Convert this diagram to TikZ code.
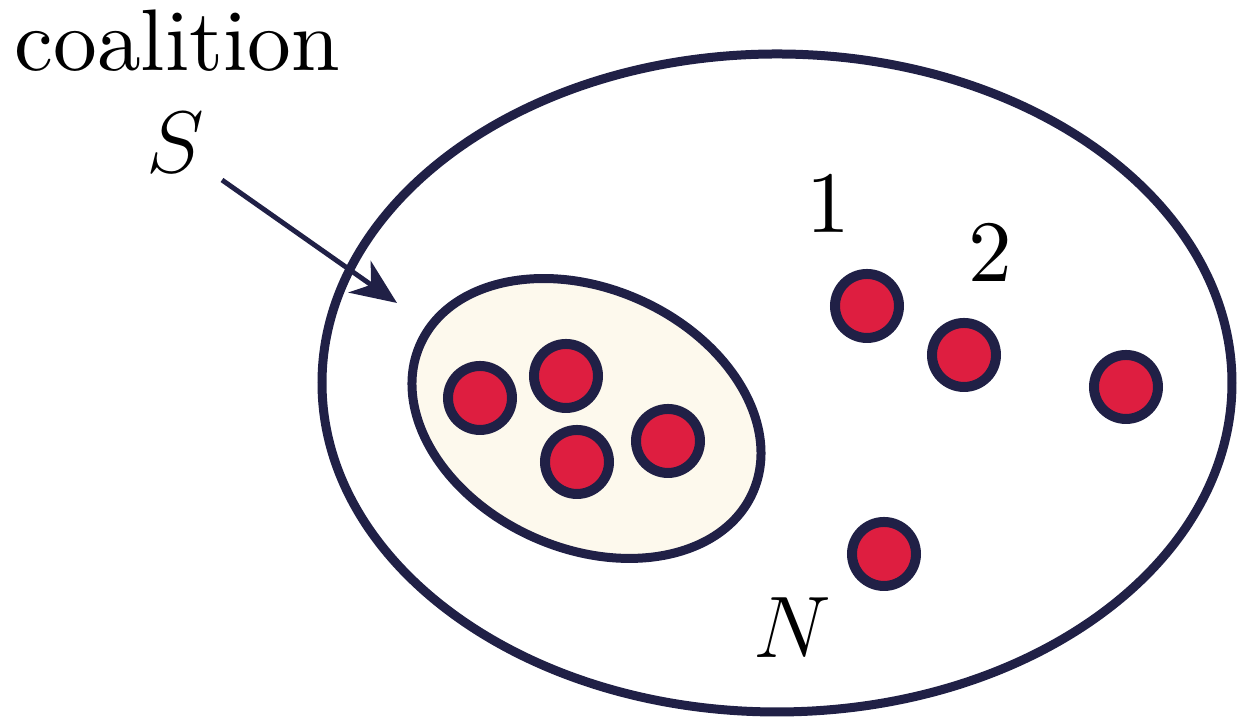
\documentclass[tikz,border=0pt]{standalone}
\usepackage{xcolor}
\usepackage{amsmath,amssymb}
\usepackage{fontspec}
\usepackage{tikz}
\usetikzlibrary{arrows.meta,positioning}
\newfontfamily\coalfont{lmroman10-regular}[Extension=.otf]
\definecolor{coalnavy}{RGB}{32,32,70}
\definecolor{coalred}{RGB}{222,30,64}
\definecolor{coalcream}{RGB}{253,249,237}
\tikzset{
  coal-grand/.style={draw=coalnavy, line width=0.09cm},
  coal-sub/.style={draw=coalnavy, fill=coalcream, line width=0.09cm},
  coal-player/.style={circle, draw=coalnavy, fill=coalred, line width=0.1cm,
    minimum size=0.64cm, inner sep=0pt},
  coal-label/.style={font=\coalfont\fontsize{24.88}{30}\selectfont, inner sep=0pt, anchor=base}
}

\begin{document}
\begin{tikzpicture}[>=Stealth]
  \useasboundingbox (0,0) rectangle (12.37,7.2);
  \draw[coal-grand] (7.77,3.37) ellipse [x radius=4.55cm, y radius=3.29cm];
  \draw[coal-sub, rotate around={-24:(5.865,3.015)}] (5.865,3.015) ellipse [x radius=1.82cm, y radius=1.30cm];
  \foreach \x/\y/\name in {4.80/3.22/sa,5.66/3.44/sb,5.77/2.58/sc,6.68/2.79/sd,
    8.67/4.14/pone,9.64/3.65/ptwo,11.26/3.33/pthree,8.84/1.66/pN} {
    \node[coal-player] (\name) at (\x,\y) {};
  }
  \node[coal-label] (coal) at (1.775,6.49) {coalition};
  \node[coal-label] (S) at (1.75,5.47) {$S$};
  \node[coal-label] (one) at (8.28,4.87) {1};
  \node[coal-label] (two) at (9.90,4.38) {2};
  \node[coal-label] (N) at (7.92,0.62) {$N$};
  \coordinate (arrow-start) at (2.22,5.40);
  \coordinate (arrow-end) at (3.97,4.17);
  \draw[coalnavy, line width=1.4pt, -{Stealth[length=13pt, width=11pt, inset=4pt]}] (arrow-start) -- (arrow-end);
\end{tikzpicture}
\end{document}
